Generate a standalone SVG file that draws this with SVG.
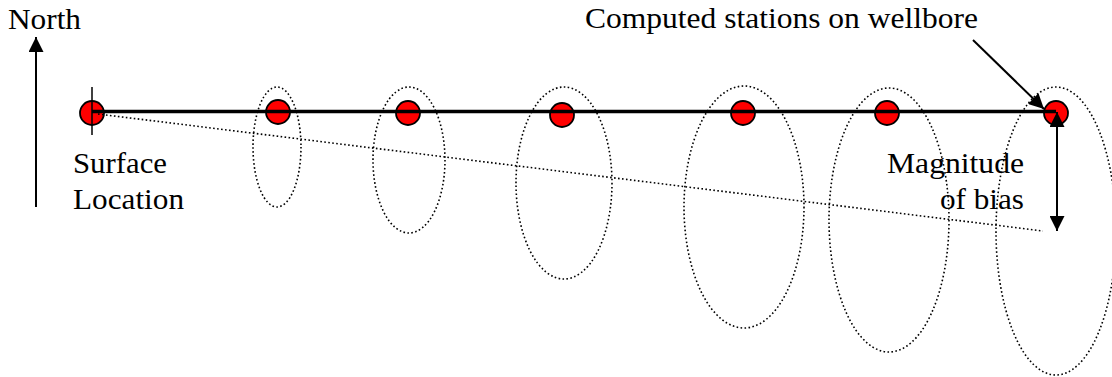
<svg xmlns="http://www.w3.org/2000/svg" width="1112" height="377" viewBox="0 0 1112 377">
<style>
.ell{fill:none;stroke:#000;stroke-width:1.6;stroke-dasharray:1.6 2.4}
.stn{fill:#ff0000;stroke:#000;stroke-width:1.8}
.ln{stroke:#000;fill:none}
</style>
<defs>
<marker id="ahb" viewBox="0 0 10 10" refX="10" refY="5" markerWidth="15" markerHeight="15" markerUnits="userSpaceOnUse" orient="auto-start-reverse"><path d="M0,0 L10,5 L0,10 z" fill="#000"/></marker>
</defs>
<rect width="1112" height="377" fill="#fff"/>
<g id="uncertainty-ellipses">
<ellipse class="ell" cx="277" cy="147" rx="24" ry="60"/>
<ellipse class="ell" cx="409" cy="160" rx="36" ry="73"/>
<ellipse class="ell" cx="564" cy="183" rx="48" ry="96"/>
<ellipse class="ell" cx="744" cy="207" rx="60" ry="121"/>
<ellipse class="ell" cx="889" cy="220" rx="60" ry="132"/>
<ellipse class="ell" cx="1056" cy="231" rx="60" ry="144"/>
</g>
<g id="stations">
<circle class="stn" cx="92" cy="113" r="12"/>
<circle class="stn" cx="278" cy="112" r="12"/>
<circle class="stn" cx="408" cy="113" r="12"/>
<circle class="stn" cx="562" cy="115" r="12"/>
<circle class="stn" cx="743" cy="113" r="12"/>
<circle class="stn" cx="887" cy="113" r="12"/>
<circle class="stn" cx="1056" cy="113" r="12"/>
</g>
<g id="connectors">
<line class="ln" x1="92" y1="111.5" x2="1056" y2="111.5" stroke-width="3.5"/>
<line class="ln" x1="98" y1="114" x2="1043" y2="231" stroke-width="1.6" stroke-dasharray="1.6 2.4"/>
<line class="ln" x1="92" y1="87" x2="92" y2="135" stroke-width="1.5"/>
<line class="ln" x1="36" y1="207" x2="36" y2="37" stroke-width="2" marker-end="url(#ahb)"/>
<line class="ln" x1="973" y1="40" x2="1044" y2="109" stroke-width="2" marker-end="url(#ahb)"/>
<line class="ln" x1="1057" y1="112" x2="1057" y2="231" stroke-width="2" marker-start="url(#ahb)" marker-end="url(#ahb)"/>
</g>
<g id="labels" font-family="Liberation Serif, Times New Roman, DejaVu Serif, serif" font-size="29" fill="#000">
<text x="8" y="29" textLength="73" lengthAdjust="spacingAndGlyphs">North</text>
<text x="73" y="173" textLength="94" lengthAdjust="spacingAndGlyphs">Surface</text>
<text x="73" y="209" textLength="111" lengthAdjust="spacingAndGlyphs">Location</text>
<text x="585" y="28" textLength="393" lengthAdjust="spacingAndGlyphs">Computed stations on wellbore</text>
<text x="887" y="173" textLength="137" lengthAdjust="spacingAndGlyphs">Magnitude</text>
<text x="940" y="209" textLength="84" lengthAdjust="spacingAndGlyphs">of bias</text>
</g>
</svg>
